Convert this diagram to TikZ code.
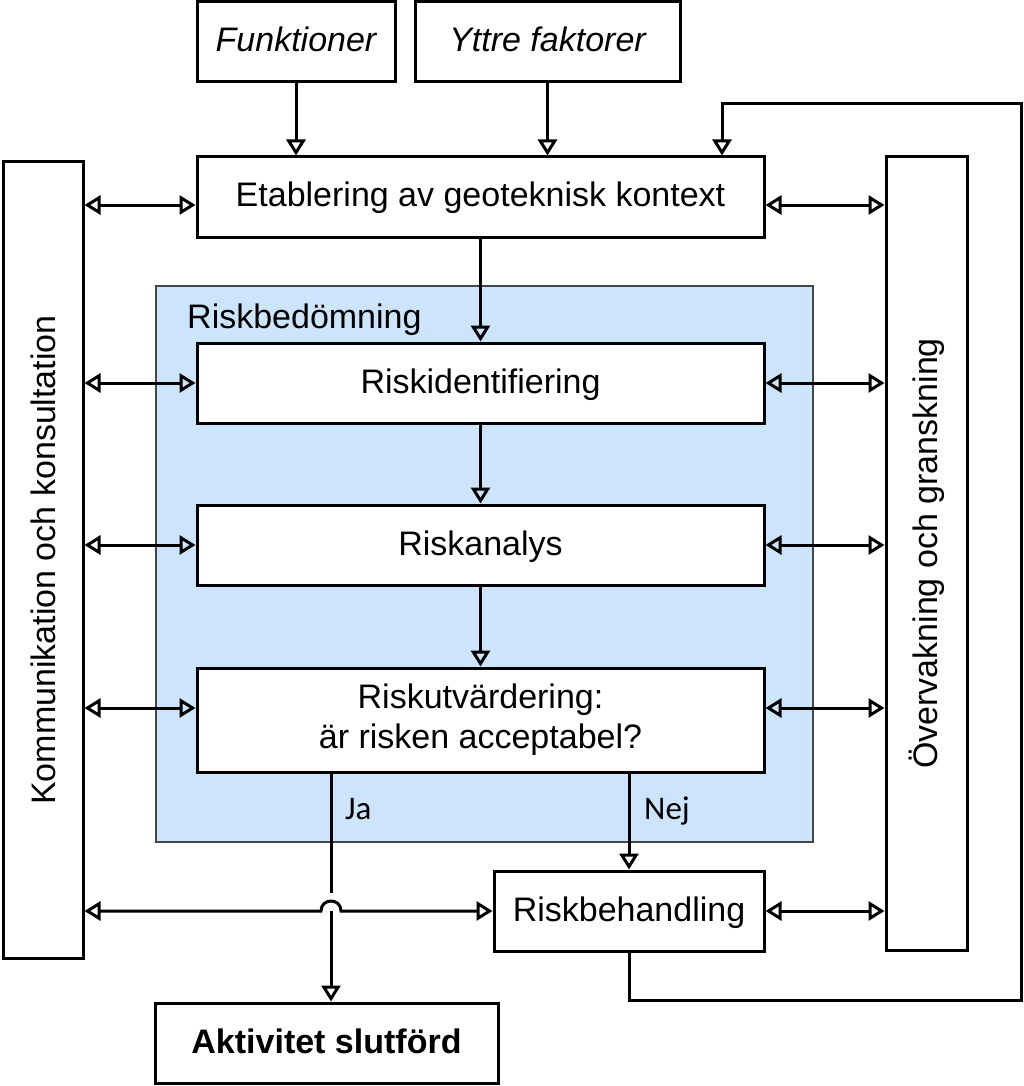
\documentclass[tikz,border=0pt]{standalone}
\usepackage{fontspec}
\setmainfont{Liberation Sans}
\newfontfamily\labfont{Carlito}
\usetikzlibrary{arrows.meta,calc}
\definecolor{rbblue}{RGB}{204,228,252}
\definecolor{rbedge}{RGB}{70,70,70}
\begin{document}
\begin{tikzpicture}[x=1pt,y=-1pt,
  bigfont/.style={font=\fontsize{34}{40}\selectfont},
  box/.style={draw, line width=3pt, fill=white, inner sep=0pt, align=center, font=\fontsize{34}{40}\selectfont},
  onel/.style={text height=24pt, text depth=4pt},
  tip/.tip={Triangle[open,length=16pt,width=19pt]},
  arr/.style={line width=3pt, -tip},
  darr/.style={line width=3pt, tip-tip},
  ln/.style={line width=3pt},
  region/.style={draw=rbedge, line width=1.2pt, fill=rbblue, inner sep=0pt},
  lab/.style={inner sep=0pt, font=\labfont\fontsize{33}{38}\selectfont}]
\useasboundingbox (0,0) rectangle (1024,1086);

% Riskbedömning region
\node[region, minimum width=657pt, minimum height=556pt] (rb) at (484.5,564) {};
\node[bigfont, anchor=base west, inner sep=0pt] (rbl) at (187,328) {Riskbedömning};

% boxes
\node[box, onel, minimum width=198pt, minimum height=80pt, font=\itshape\fontsize{34}{40}\selectfont] (fun) at (296,42) {Funktioner};
\node[box, onel, minimum width=265pt, minimum height=80pt, font=\itshape\fontsize{34}{40}\selectfont] (ytt) at (547.5,42) {Yttre faktorer};
\node[box, onel, minimum width=567pt, minimum height=80pt] (eta) at (480.5,197) {Etablering av geoteknisk kontext};
\node[box, minimum width=80pt, minimum height=796pt,
  label={[rotate=90, bigfont]center:Kommunikation och konsultation}] (kom) at (43,560) {};
\node[box, minimum width=81pt, minimum height=793pt,
  label={[rotate=90, bigfont]center:Övervakning och granskning}] (ove) at (926.5,553.5) {};
\node[box, onel, minimum width=567pt, minimum height=80pt] (rid) at (480.5,383) {Riskidentifiering};
\node[box, onel, minimum width=567pt, minimum height=80pt] (ran) at (480.5,545) {Riskanalys};
\node[box, minimum width=567pt, minimum height=104pt] (rut) at (480.5,720) {Riskutvärdering:\\är risken acceptabel?};
\node[box, onel, minimum width=270pt, minimum height=80pt] (rbe) at (629,911) {Riskbehandling};
\node[box, onel, minimum width=343pt, minimum height=80pt, font=\bfseries\fontsize{34}{40}\selectfont] (akt) at (326.5,1043) {Aktivitet slutförd};

% labels
\node[lab, anchor=base west] (ja) at (345,819) {Ja};
\node[lab, anchor=base west] (nej) at (644,819) {Nej};

% helper coordinates
\coordinate (y1) at (0,205);
\coordinate (y4) at (0,708);
\coordinate (jx) at (331,0);
\coordinate (c2) at (1021,1000);
\coordinate (c3) at (1021,104);
\coordinate (c4) at (722,104);

% top inputs
\draw[arr] (fun.south) -- (fun.south |- eta.north);
\draw[arr] (ytt.south) -- (ytt.south |- eta.north);

% main chain
\draw[arr] (eta.south) -- (rid.north);
\draw[arr] (rid.south) -- (ran.north);
\draw[arr] (ran.south) -- (rut.north);

% side double arrows
\draw[darr] (kom.east |- y1) -- (eta.west |- y1);
\draw[darr] (eta.east |- y1) -- (ove.west |- y1);
\draw[darr] (kom.east |- rid.west) -- (rid.west);
\draw[darr] (rid.east) -- (ove.west |- rid.east);
\draw[darr] (kom.east |- ran.west) -- (ran.west);
\draw[darr] (ran.east) -- (ove.west |- ran.east);
\draw[darr] (kom.east |- y4) -- (rut.west |- y4);
\draw[darr] (rut.east |- y4) -- (ove.west |- y4);
\draw[darr] (kom.east |- rbe.west) -- ($(jx |- rbe.west)+(-10,0)$)
  .. controls ($(jx |- rbe.west)+(-10,-13.3)$) and ($(jx |- rbe.west)+(10,-13.3)$) .. ($(jx |- rbe.west)+(10,0)$)
  -- (rbe.west);
\draw[darr] (rbe.east) -- (ove.west |- rbe.east);

% Ja / Nej
\draw[ln] (jx |- rut.south) -- ($(jx |- rbe.west)+(0,-18)$);
\draw[arr] (jx |- rbe.west) -- (jx |- akt.north);
\draw[arr] (rbe.north |- rut.south) -- (rbe.north);

% feedback loop
\draw[arr] (rbe.south) |- (c2) -- (c3) -- (c4) -- (c4 |- eta.north);
\end{tikzpicture}
\end{document}
